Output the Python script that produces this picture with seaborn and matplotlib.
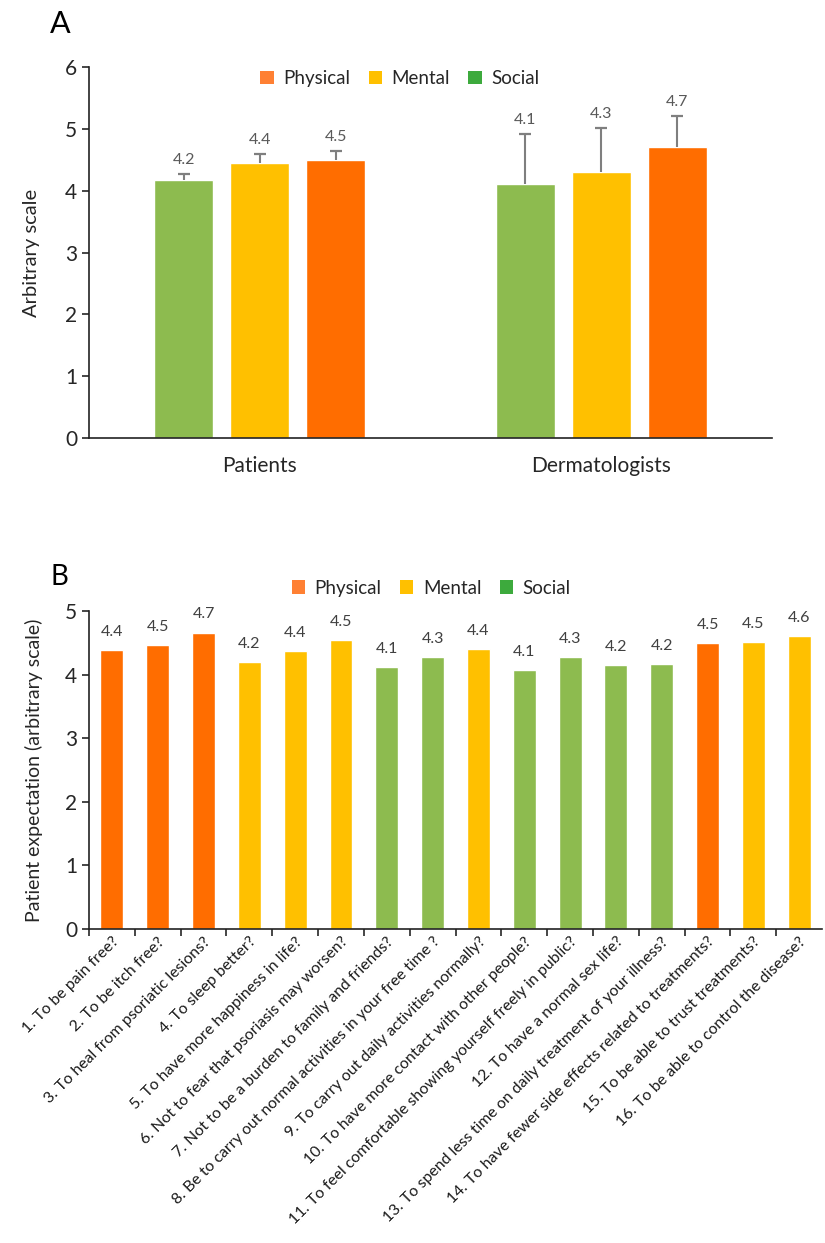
import pandas as pd
import matplotlib
matplotlib.use("Agg")
import matplotlib.pyplot as plt
from matplotlib.patches import Patch
import seaborn as sns

# Panel A data
groups = ["Patients", "Dermatologists"]
domains = ["Social", "Mental", "Physical"]
patients_mean = [4.18, 4.45, 4.50]
patients_err = [0.09, 0.15, 0.14]
derm_mean = [4.11, 4.30, 4.71]
derm_err = [0.80, 0.71, 0.50]
patients_lbl = ["4.2", "4.4", "4.5"]
derm_lbl = ["4.1", "4.3", "4.7"]

# Panel B data
items = [
    "1. To be pain free?",
    "2. To be itch free?",
    "3. To heal from psoriatic lesions?",
    "4. To sleep better?",
    "5. To have more happiness in life?",
    "6. Not to fear that psoriasis may worsen?",
    "7. Not to be a burden to family and friends?",
    "8. Be to carry out normal activities in your free time ?",
    "9. To carry out daily activities normally?",
    "10. To have more contact with other people?",
    "11. To feel comfortable showing yourself freely in public?",
    "12. To have a normal sex life?",
    "13. To spend less time on daily treatment of your illness?",
    "14. To have fewer side effects related to treatments?",
    "15. To be able to trust treatments?",
    "16. To be able to control the disease?",
]
item_domain = ["Physical", "Physical", "Physical", "Mental", "Mental", "Mental",
               "Social", "Social", "Mental", "Social", "Social", "Social",
               "Social", "Physical", "Mental", "Mental"]
item_mean = [4.38, 4.46, 4.66, 4.20, 4.37, 4.54, 4.12, 4.28,
             4.40, 4.07, 4.28, 4.15, 4.16, 4.50, 4.51, 4.61]
item_lbl = ["4.4", "4.5", "4.7", "4.2", "4.4", "4.5", "4.1", "4.3",
            "4.4", "4.1", "4.3", "4.2", "4.2", "4.5", "4.5", "4.6"]

bar_colors = {"Physical": "#FF6D00", "Mental": "#FFC000", "Social": "#8DBB4F"}
legend_colors = {"Physical": "#FF8033", "Mental": "#FFC000", "Social": "#3DAA3D"}

sns.set_theme(style="ticks")
plt.rcParams["font.family"] = ["Lato", "DejaVu Sans"]
plt.rcParams["axes.linewidth"] = 1.2
plt.rcParams["axes.edgecolor"] = "#222222"
text_col = "#262626"

fig = plt.figure(figsize=(8.25, 12.43), dpi=100)
ax_a = fig.add_axes([0.1079, 0.6476, 0.8279, 0.2985])
ax_b = fig.add_axes([0.1079, 0.2526, 0.8885, 0.2559])

# ---- Panel A ----
df_a = pd.DataFrame({
    "group": [g for g in groups for _ in domains],
    "domain": domains * 2,
    "mean": patients_mean + derm_mean,
    "err": patients_err + derm_err,
    "lbl": patients_lbl + derm_lbl,
})
sns.barplot(data=df_a, x="group", y="mean", hue="domain", order=groups,
            hue_order=domains, palette=bar_colors, width=0.667, gap=0.22,
            errorbar=None, ax=ax_a, legend=False, saturation=1)
for bars, dom in zip(ax_a.containers, domains):
    sub = df_a[df_a["domain"] == dom].set_index("group").loc[groups]
    xs = [b.get_x() + b.get_width() / 2 for b in bars]
    tops = sub["mean"] + sub["err"]
    # upper error bar only, cap at the top
    ax_a.errorbar(xs, sub["mean"], yerr=[[0] * len(xs), sub["err"]], fmt="none",
                  ecolor="#7F7F7F", elinewidth=1.5, capsize=0)
    ax_a.scatter(xs, tops, marker="_", s=70, color="#7F7F7F", linewidths=1.6,
                 zorder=3)
    for x, top, t in zip(xs, tops, sub["lbl"]):
        ax_a.annotate(t, (x, top), xytext=(0, 5), textcoords="offset points",
                      ha="center", va="bottom", fontsize=11.5, color="#595959")
ax_a.set_xlim(-0.5, 1.5)
ax_a.set_ylim(0, 6)
ax_a.set_yticks(range(0, 7))
ax_a.set_xlabel("")
ax_a.set_ylabel("Arbitrary scale", fontsize=14.5, color=text_col, labelpad=18)
ax_a.tick_params(axis="y", labelsize=15, colors=text_col, length=5, width=1.2)
ax_a.tick_params(axis="x", labelsize=15, colors=text_col, length=0, pad=13)
sns.despine(ax=ax_a)
handles = [Patch(facecolor=legend_colors[d], edgecolor="none", label=d)
           for d in ["Physical", "Mental", "Social"]]
ax_a.legend(handles=handles, loc="center", bbox_to_anchor=(0.455, 0.968), ncol=3,
            frameon=False, fontsize=13.5, handlelength=0.7, handleheight=0.7,
            handletextpad=0.5, columnspacing=1.0, labelcolor=text_col)
fig.text(0.061, 0.9735, "A", fontsize=22, color="black", ha="left", va="baseline")

# ---- Panel B ----
df_b = pd.DataFrame({"item": items, "domain": item_domain, "mean": item_mean})
sns.barplot(data=df_b, x="item", y="mean", hue="domain", order=items,
            palette=bar_colors, width=0.5, dodge=False, errorbar=None,
            ax=ax_b, legend=False, saturation=1)
for i, (m, t) in enumerate(zip(item_mean, item_lbl)):
    ax_b.annotate(t, (i, m), xytext=(0, 8), textcoords="offset points",
                  ha="center", va="bottom", fontsize=11.5, color="#404040")
ax_b.set_xlim(-0.5, len(items) - 0.5)
ax_b.set_ylim(0, 5)
ax_b.set_yticks(range(0, 6))
ax_b.set_xticks([i - 0.5 for i in range(len(items))])
ax_b.set_xticklabels([])
ax_b.set_xticks(range(len(items)), minor=True)
ax_b.set_xticklabels(items, minor=True, rotation=45, ha="right",
                     rotation_mode="anchor", fontsize=11.4, color="#1a1a1a")
ax_b.tick_params(axis="x", which="minor", length=0, pad=4)
ax_b.tick_params(axis="x", which="major", length=5, width=1.2)
ax_b.set_xlabel("")
ax_b.set_ylabel("Patient expectation (arbitrary scale)", fontsize=14,
                color=text_col, labelpad=16)
ax_b.tick_params(axis="y", labelsize=15, colors=text_col, length=5, width=1.2)
sns.despine(ax=ax_b)
ax_b.legend(handles=handles, loc="center", bbox_to_anchor=(0.467, 1.072), ncol=3,
            frameon=False, fontsize=13.5, handlelength=0.7, handleheight=0.7,
            handletextpad=0.5, columnspacing=1.0, labelcolor=text_col)
fig.text(0.061, 0.5294, "B", fontsize=20, color="black", ha="left", va="baseline")

fig.savefig("out.png", dpi=100)
